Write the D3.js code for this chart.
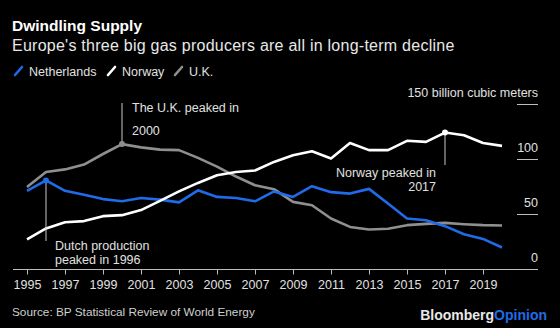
<!DOCTYPE html>
<html>
<head>
<meta charset="utf-8">
<script src="https://cdn.jsdelivr.net/npm/d3@7"></script>
<style>
  body { margin: 0; background: #000; }
  svg { display: block; background: #000; font-family: "Liberation Sans", Arial, sans-serif; }
  .axis path { display: none; }
  .axis line { stroke: #bdbdbd; }
  .axis text { fill: #e0e0e0; font-size: 12.5px; font-family: "Liberation Sans", Arial, sans-serif; }
</style>
</head>
<body>
<script>
// billion cubic meters
var years = [1995, 1996, 1997, 1998, 1999, 2000, 2001, 2002, 2003, 2004, 2005, 2006, 2007,
             2008, 2009, 2010, 2011, 2012, 2013, 2014, 2015, 2016, 2017, 2018, 2019, 2020];
var netherlands = [71.5, 81, 71.5, 68, 64, 62, 65, 63.5, 61, 72, 66, 65, 62,
                   71, 66, 75.7, 70.3, 69, 73.3, 60, 46.4, 44.8, 39.4, 32, 27.8, 20];
var norway = [27.3, 37.3, 43, 44, 48.5, 49.4, 54, 62.4, 71, 78.7, 85.7, 88.7, 90,
              97.8, 103.9, 107.5, 100.9, 115, 108.5, 108.5, 117, 116, 124.5, 122, 115, 112.4];
var uk = [75, 88.7, 91, 95.4, 105, 114, 111, 109, 108.5, 101.5, 93.5, 84.5, 76.6,
          73, 61.5, 58.4, 46.4, 38.7, 36.4, 37, 40.3, 41.5, 42.4, 41.2, 40.3, 40];
var xTicks = [1995, 1997, 1999, 2001, 2003, 2005, 2007, 2009, 2011, 2013, 2015, 2017, 2019];
var yTicks = [0, 50, 100, 150];

var width = 560, height = 328;
var colors = {Netherlands: "#1f6be8", Norway: "#ffffff", "U.K.": "#8f8f8f"};

var series = [
  {name: "U.K.", values: uk},
  {name: "Netherlands", values: netherlands},
  {name: "Norway", values: norway}
];

var svg = d3.select("body").append("svg")
  .attr("width", width)
  .attr("height", height);

var x = d3.scaleLinear().domain([1995, 2020]).range([27, 502]);
var y = d3.scaleLinear().domain([0, 150]).range([269.5, 104.5]);

// titles
svg.append("text")
  .attr("x", 12).attr("y", 31)
  .style("font-size", "15.5px").style("font-weight", "bold")
  .style("fill", "#fff")
  .text("Dwindling Supply");

svg.append("text")
  .attr("x", 12).attr("y", 50.5)
  .style("font-size", "16px")
  .style("letter-spacing", "0.25px")
  .style("fill", "#e8e8e8")
  .text("Europe's three big gas producers are all in long-term decline");

// legend
var legendItems = [
  {name: "Netherlands", x: 13},
  {name: "Norway", x: 106},
  {name: "U.K.", x: 173}
];
var legend = svg.append("g").selectAll("g")
  .data(legendItems)
  .enter().append("g")
  .attr("transform", d => "translate(" + d.x + ",71)");
legend.append("line")
  .attr("x1", 2).attr("y1", 4).attr("x2", 9).attr("y2", -4)
  .style("stroke", d => colors[d.name])
  .style("stroke-width", 2.6)
  .style("stroke-linecap", "round");
legend.append("text")
  .attr("x", 16).attr("y", 4.5)
  .style("font-size", "12.5px")
  .style("fill", "#e0e0e0")
  .text(d => d.name);

// right value ticks
var yAxis = svg.append("g");
yAxis.selectAll("line")
  .data(yTicks.filter(d => d > 0))
  .enter().append("line")
  .attr("x1", 517).attr("x2", 538)
  .attr("y1", d => y(d)).attr("y2", d => y(d))
  .style("stroke", "#bdbdbd");
yAxis.selectAll("text")
  .data(yTicks)
  .enter().append("text")
  .attr("x", 538)
  .attr("y", d => y(d) - 7.5)
  .attr("text-anchor", "end")
  .style("font-size", "12.5px")
  .style("fill", "#e0e0e0")
  .text(d => d === 150 ? "150 billion cubic meters" : d);

// baseline
svg.append("line")
  .attr("x1", 13).attr("x2", 538)
  .attr("y1", y(0)).attr("y2", y(0))
  .style("stroke", "#bdbdbd");

svg.append("g")
  .attr("class", "axis")
  .attr("transform", "translate(0," + y(0) + ")")
  .call(d3.axisBottom(x).tickValues(xTicks).tickFormat(d3.format("d")).tickSize(5).tickPadding(6));

// lines
var line = d3.line()
  .x((d, i) => x(years[i]))
  .y(d => y(d));

svg.append("g").selectAll("path")
  .data(series)
  .enter().append("path")
  .attr("d", d => line(d.values))
  .style("fill", "none")
  .style("stroke", d => colors[d.name])
  .style("stroke-width", 2.6)
  .style("stroke-linejoin", "round");

// annotations
var notes = [
  {name: "U.K.", year: 2000, values: uk, end: 103, lines: ["The U.K. peaked in", "2000"], tx: 132, ty: [112, 135], anchor: "start"},
  {name: "Netherlands", year: 1996, values: netherlands, end: 241, lines: ["Dutch production", "peaked in 1996"], tx: 55, ty: [250, 263.5], anchor: "start"},
  {name: "Norway", year: 2017, values: norway, end: 165, lines: ["Norway peaked in", "2017"], tx: 436, ty: [176.5, 190.5], anchor: "end"}
];

var ann = svg.append("g").selectAll("g")
  .data(notes)
  .enter().append("g");

ann.append("line")
  .attr("x1", d => x(d.year)).attr("x2", d => x(d.year))
  .attr("y1", d => y(d.values[years.indexOf(d.year)]))
  .attr("y2", d => d.end)
  .style("stroke", "#c8c8c8")
  .style("stroke-width", 1);

ann.append("circle")
  .attr("cx", d => x(d.year))
  .attr("cy", d => y(d.values[years.indexOf(d.year)]))
  .attr("r", 3)
  .style("fill", d => colors[d.name]);

ann.each(function(d) {
  var g = d3.select(this);
  d.lines.forEach(function(t, i) {
    g.append("text")
      .attr("x", d.tx).attr("y", d.ty[i])
      .attr("text-anchor", d.anchor)
      .style("font-size", "12.5px")
      .style("fill", "#e0e0e0")
      .text(t);
  });
});

// source and logo
svg.append("text")
  .attr("x", 12).attr("y", 316)
  .style("font-size", "11.8px")
  .style("fill", "#d0d0d0")
  .text("Source: BP Statistical Review of World Energy");

var logo = svg.append("text")
  .attr("x", 547).attr("y", 320)
  .attr("text-anchor", "end")
  .style("font-size", "14px")
  .style("font-weight", "bold");
logo.append("tspan").style("fill", "#e8e8e8").text("Bloomberg");
logo.append("tspan").style("fill", "#1f6be8").text("Opinion");
</script>
</body>
</html>
